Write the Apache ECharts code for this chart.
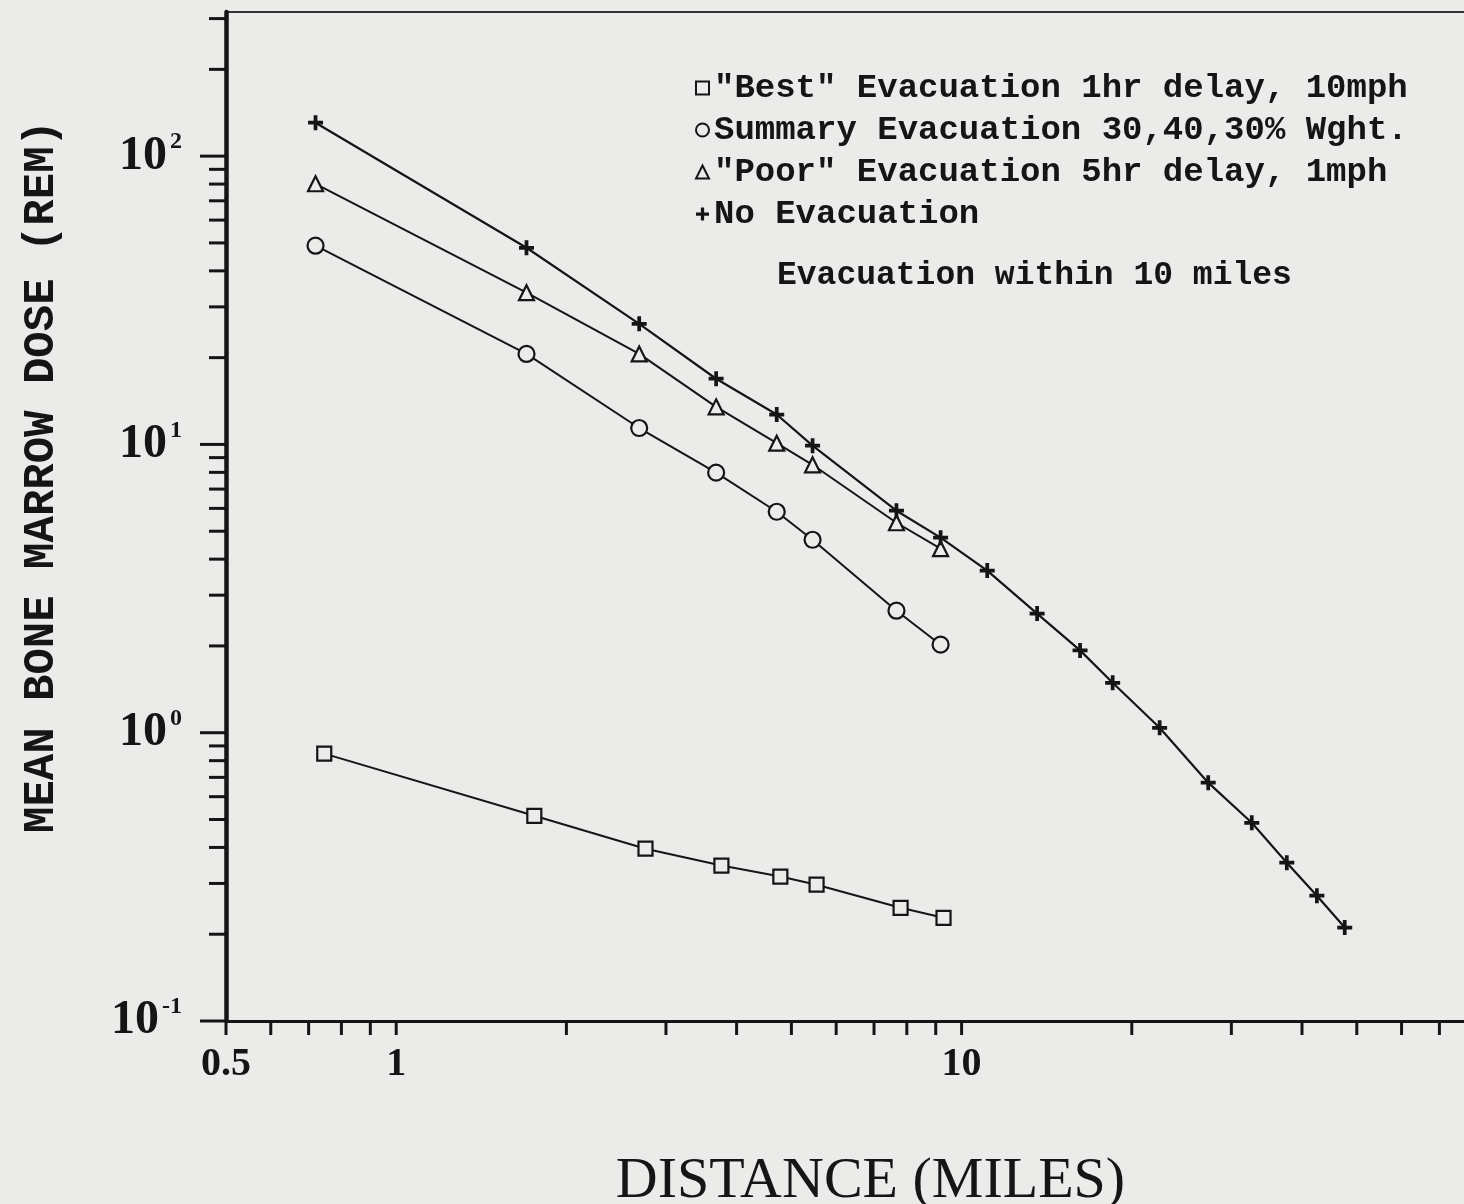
<!DOCTYPE html>
<html>
<head>
<meta charset="utf-8">
<script src="https://cdn.jsdelivr.net/npm/echarts@6/dist/echarts.min.js"></script>
<style>
  html, body { margin: 0; padding: 0; background: #ebebea; }
  #chart { width: 1464px; height: 1204px; }
</style>
</head>
<body>
<div id="chart"></div>
<script>
// ---- data (distance in miles, dose in rem) ----
const distNear = [0.72, 1.70, 2.69, 3.68, 4.71, 5.45, 7.67, 9.18];
const distBest = [0.746, 1.755, 2.76, 3.76, 4.78, 5.54, 7.80, 9.29];
const distNone = [0.72, 1.70, 2.69, 3.68, 4.71, 5.45, 7.67, 9.18, 11.1, 13.6, 16.2, 18.5, 22.4, 27.3, 32.6, 37.6, 42.5, 47.6];

const doseBest    = [0.846, 0.515, 0.396, 0.346, 0.317, 0.297, 0.247, 0.228];
const doseSummary = [48.9, 20.6, 11.4, 7.98, 5.84, 4.67, 2.65, 2.02];
const dosePoor    = [80.2, 33.6, 20.6, 13.5, 10.1, 8.5, 5.35, 4.35];
const doseNone    = [130.6, 48.1, 26.2, 16.9, 12.7, 9.9, 5.89, 4.75, 3.65, 2.59, 1.93, 1.49, 1.04, 0.671, 0.487, 0.354, 0.272, 0.211];

const seriesNames = [
  '"Best" Evacuation 1hr delay, 10mph',
  'Summary Evacuation 30,40,30% Wght.',
  '"Poor" Evacuation 5hr delay, 1mph',
  'No Evacuation'
];
const noteText = 'Evacuation within 10 miles';
const xTitle = 'DISTANCE (MILES)';
const yTitle = 'MEAN BONE MARROW DOSE (REM)';

// ---- axis ticks / labels ----
const xLabelValues = [0.5, 1, 10];
const xTickValues = [0.5, 0.6, 0.7, 0.8, 0.9, 1, 2, 3, 4, 5, 6, 7, 8, 9, 10, 20, 30, 40, 50, 60, 70, 80, 90];
const yLabelValues = [0.1, 1, 10, 100];
const yLabelExps = ['-1', '0', '1', '2'];
const yMinorTickValues = [0.2, 0.3, 0.4, 0.5, 0.6, 0.7, 0.8, 0.9, 2, 3, 4, 5, 6, 7, 8, 9, 20, 30, 40, 50, 60, 70, 80, 90, 200, 300];

const X_MIN = 0.5, X_MAX = 100;
const Y_MIN = 0.1, Y_MAX = Math.pow(10, 2.5);

const BG = '#ebebea';
const INK = '#151515';
const PLUS = 'path://M6,0H10V6H16V10H10V16H6V10H0V6H6Z';

function pairs(xs, ys) { return xs.map((x, i) => [x, ys[i]]); }

const chart = echarts.init(document.getElementById('chart'), null, { renderer: 'canvas' });

const hollow = { color: BG, borderColor: INK, borderWidth: 2.2 };

const option = {
  backgroundColor: BG,
  animation: false,
  grid: {
    left: 226, top: 12, width: 1301, height: 1009,
    outerBoundsMode: 'none', containLabel: false,
    show: true, borderColor: '#333', borderWidth: 2, backgroundColor: 'transparent'
  },
  title: {
    text: noteText,
    left: 772, top: 254,
    textStyle: { fontFamily: 'Liberation Mono', fontWeight: 'bold', fontSize: 33, color: INK }
  },
  legend: {
    orient: 'vertical',
    left: 690, top: 66,
    itemWidth: 13, itemHeight: 13,
    itemGap: 8,
    selectedMode: false,
    textStyle: { fontFamily: 'Liberation Mono', fontWeight: 'bold', fontSize: 34, color: INK },
    data: [
      { name: seriesNames[0], icon: 'rect', itemStyle: { color: BG, borderColor: INK, borderWidth: 2 } },
      { name: seriesNames[1], icon: 'circle', itemStyle: { color: BG, borderColor: INK, borderWidth: 2 } },
      { name: seriesNames[2], icon: 'triangle', itemStyle: { color: BG, borderColor: INK, borderWidth: 2 } },
      { name: seriesNames[3], icon: PLUS, itemStyle: { color: INK, borderWidth: 0 } }
    ]
  },
  xAxis: {
    type: 'log', logBase: 10, min: X_MIN, max: X_MAX,
    name: xTitle, nameLocation: 'middle', nameGap: 132,
    nameTextStyle: { fontFamily: 'Liberation Serif', fontSize: 58, color: INK, padding: [0, 12, 0, 0] },
    axisLine: { show: true, onZero: false, lineStyle: { color: INK, width: 3 } },
    axisTick: { show: false },
    splitLine: { show: false },
    axisLabel: {
      customValues: xLabelValues,
      margin: 24,
      fontFamily: 'Liberation Serif', fontWeight: 'bold', fontSize: 40, color: INK,
      formatter: v => String(+(+v).toPrecision(6))
    }
  },
  yAxis: {
    type: 'log', logBase: 10, min: Y_MIN, max: Y_MAX,
    name: yTitle, nameLocation: 'middle', nameGap: 162, nameRotate: 90,
    nameTextStyle: { fontFamily: 'Liberation Mono', fontWeight: 'bold', fontSize: 44, color: INK, padding: [0, 0, 0, 80] },
    axisLine: { show: true, onZero: false, lineStyle: { color: INK, width: 4.5 } },
    axisTick: { show: false },
    splitLine: { show: false },
    axisLabel: {
      customValues: yLabelValues,
      margin: 44,
      color: INK,
      formatter: v => {
        let idx = 0, best = Infinity;
        yLabelValues.forEach((lv, i) => {
          const d = Math.abs(Math.log10(v) - Math.log10(lv));
          if (d < best) { best = d; idx = i; }
        });
        return '{b|10}{s|' + yLabelExps[idx] + '}';
      },
      rich: {
        b: { fontFamily: 'Liberation Serif', fontWeight: 'bold', fontSize: 48, color: INK, lineHeight: 52 },
        s: { fontFamily: 'Liberation Serif', fontWeight: 'bold', fontSize: 24, color: INK, verticalAlign: 'top', lineHeight: 52, padding: [0, 0, 24, 3] }
      }
    }
  },
  series: [
    {
      name: seriesNames[0], type: 'line', data: pairs(distBest, doseBest),
      symbol: 'rect', symbolSize: 14, itemStyle: hollow,
      lineStyle: { color: INK, width: 2 }, z: 3
    },
    {
      name: seriesNames[1], type: 'line', data: pairs(distNear, doseSummary),
      symbol: 'circle', symbolSize: 16, itemStyle: hollow,
      lineStyle: { color: INK, width: 2 }, z: 3
    },
    {
      name: seriesNames[2], type: 'line', data: pairs(distNear, dosePoor),
      symbol: 'triangle', symbolSize: 15, itemStyle: hollow,
      lineStyle: { color: INK, width: 2 }, z: 3
    },
    {
      name: seriesNames[3], type: 'line', data: pairs(distNone, doseNone),
      symbol: PLUS, symbolSize: 15, itemStyle: { color: INK, borderWidth: 0 },
      lineStyle: { color: INK, width: 2.2 }, z: 4
    },
    {
      name: 'xticks', type: 'custom', silent: true, clip: false, z: 5,
      data: xTickValues.map(v => [v, Y_MIN]),
      renderItem: (params, api) => {
        const p = api.coord([api.value(0), Y_MIN]);
        return { type: 'line', shape: { x1: p[0], y1: p[1], x2: p[0], y2: p[1] + 14 }, style: { stroke: INK, lineWidth: 3 } };
      }
    },
    {
      name: 'yticks', type: 'custom', silent: true, clip: false, z: 5,
      data: yLabelValues.map(v => [X_MIN, v, 1]).concat(yMinorTickValues.map(v => [X_MIN, v, 0])),
      renderItem: (params, api) => {
        const p = api.coord([X_MIN, api.value(1)]);
        const len = api.value(2) ? 26 : 17;
        return { type: 'line', shape: { x1: p[0] - len, y1: p[1], x2: p[0], y2: p[1] }, style: { stroke: INK, lineWidth: 3 } };
      }
    }
  ]
};

chart.setOption(option);
</script>
</body>
</html>
